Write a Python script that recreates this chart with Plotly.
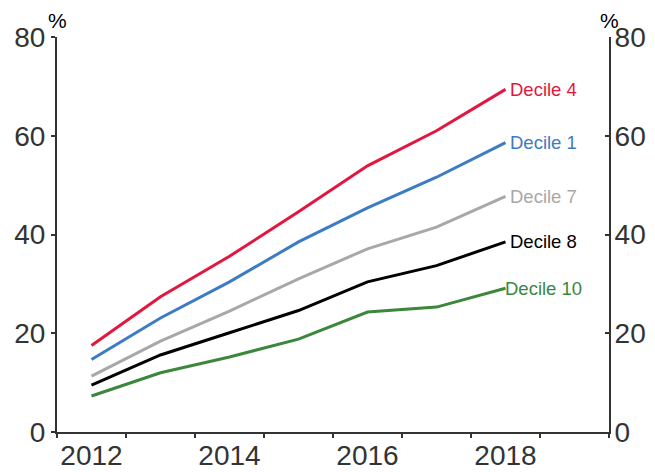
import plotly.graph_objects as go

years = [2012.5, 2013.5, 2014.5, 2015.5, 2016.5, 2017.5, 2018.5]
decile_4 = [17.5, 27.4, 35.6, 44.6, 53.9, 61.0, 69.4]
decile_1 = [14.7, 23.1, 30.4, 38.5, 45.4, 51.6, 58.6]
decile_7 = [11.3, 18.4, 24.5, 31.0, 37.1, 41.5, 47.7]
decile_8 = [9.5, 15.6, 20.1, 24.6, 30.4, 33.7, 38.5]
decile_10 = [7.3, 12.0, 15.2, 18.8, 24.3, 25.3, 29.1]

series_names = ["Decile 4", "Decile 1", "Decile 7", "Decile 8", "Decile 10"]
series_values = [decile_4, decile_1, decile_7, decile_8, decile_10]
series_colors = ["#E3173E", "#3C7CC4", "#A8A8A8", "#000000", "#3B873B"]
label_shifts = [2, 2, 2, 2, -3]

x_tick_vals = [2012.5, 2014.5, 2016.5, 2018.5]
x_tick_text = ["2012", "2014", "2016", "2018"]
x_minor_vals = [2012, 2013, 2014, 2015, 2016, 2017, 2018, 2019, 2020]
y_tick_vals = [0, 20, 40, 60, 80]

FONT = "Liberation Sans, Arial, sans-serif"
AX = "#333333"

fig = go.Figure()
for name, vals, col in zip(series_names, series_values, series_colors):
    fig.add_trace(go.Scatter(x=years, y=vals, mode="lines", name=name,
                             line=dict(color=col, width=3), showlegend=False,
                             hoverinfo="skip"))
# invisible trace to activate right axis
fig.add_trace(go.Scatter(x=years, y=decile_4, yaxis="y2", mode="lines",
                         line=dict(color="rgba(0,0,0,0)", width=0),
                         showlegend=False, hoverinfo="skip"))

for name, vals, col, sh in zip(series_names, series_values, series_colors, label_shifts):
    fig.add_annotation(x=years[-1], y=vals[-1], text=name, showarrow=False,
                       xanchor="left", yanchor="middle", xshift=sh,
                       font=dict(family=FONT, size=18.5, color=col))

for xp in (0, 1):
    fig.add_annotation(xref="paper", yref="paper", x=xp, y=1, text="%", showarrow=False,
                       xanchor="center", yanchor="middle", yshift=17, borderpad=0,
                       font=dict(family=FONT, size=21, color="#000000"))

fig.update_layout(
    width=647, height=464,
    margin=dict(l=49, r=46, t=29, b=40, autoexpand=False),
    plot_bgcolor="white", paper_bgcolor="white",
    font=dict(family=FONT, color=AX),
    xaxis=dict(range=[2012, 2020], tickmode="array", tickvals=x_tick_vals,
               ticktext=x_tick_text, ticks="", showgrid=False, zeroline=False,
               showline=True, linecolor=AX, linewidth=2, automargin=False,
               ticklabelstandoff=-3,
               tickfont=dict(size=28, color=AX),
               minor=dict(tickmode="array", tickvals=x_minor_vals, ticks="outside",
                          ticklen=4, tickwidth=1.5, tickcolor=AX, showgrid=False)),
    yaxis=dict(range=[0, 80], tickmode="array", tickvals=y_tick_vals,
               ticks="outside", ticklen=4, tickwidth=1.5, tickcolor=AX,
               showgrid=False, zeroline=False, showline=True, linecolor=AX,
               linewidth=2, automargin=False, tickfont=dict(size=28, color=AX)),
    yaxis2=dict(range=[0, 80], tickmode="array", tickvals=y_tick_vals,
                overlaying="y", side="right",
                ticks="inside", ticklen=4, tickwidth=1.5, tickcolor=AX,
                showgrid=False, zeroline=False, showline=True, linecolor=AX,
                linewidth=2, automargin=False, ticklabelstandoff=-2,
                tickfont=dict(size=28, color=AX)),
)

fig.write_html("out.html")
